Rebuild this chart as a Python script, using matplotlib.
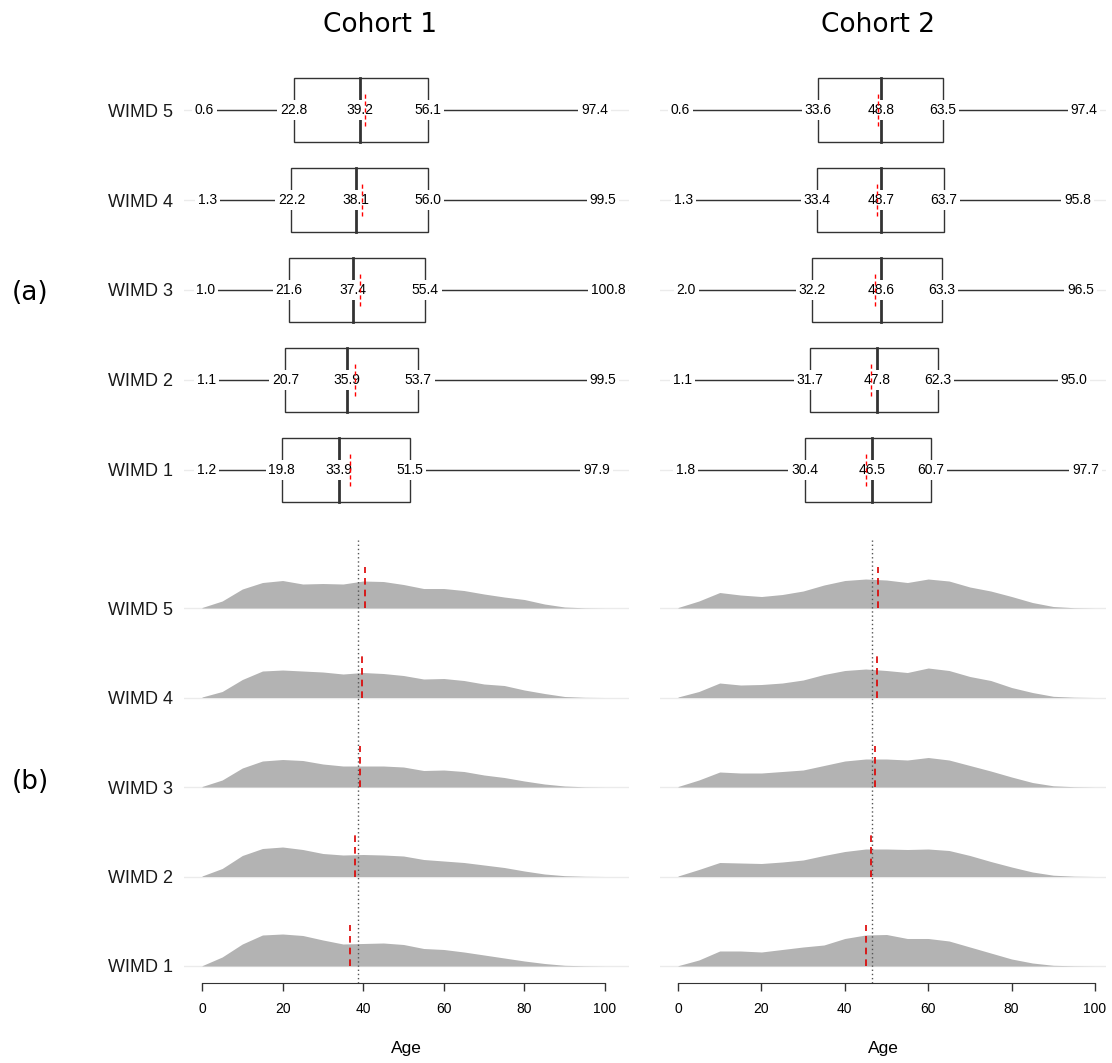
import matplotlib
matplotlib.use("Agg")
import matplotlib.pyplot as plt
from matplotlib.patches import Rectangle
import numpy as np

# groups, bottom row first
groups = ["WIMD 1", "WIMD 2", "WIMD 3", "WIMD 4", "WIMD 5"]
cohorts = ["Cohort 1", "Cohort 2"]

# five-number summaries: min, q1, median, q3, max
c1_stats = [[1.2, 19.8, 33.9, 51.5, 97.9],
            [1.1, 20.7, 35.9, 53.7, 99.5],
            [1.0, 21.6, 37.4, 55.4, 100.8],
            [1.3, 22.2, 38.1, 56.0, 99.5],
            [0.6, 22.8, 39.2, 56.1, 97.4]]
c2_stats = [[1.8, 30.4, 46.5, 60.7, 97.7],
            [1.1, 31.7, 47.8, 62.3, 95.0],
            [2.0, 32.2, 48.6, 63.3, 96.5],
            [1.3, 33.4, 48.7, 63.7, 95.8],
            [0.6, 33.6, 48.8, 63.5, 97.4]]

# group means (red dashed) and overall mean (dotted)
c1_means = [36.8, 38.0, 39.3, 39.8, 40.4]
c2_means = [45.2, 46.4, 47.2, 47.7, 48.0]
overall_means = [38.8, 46.6]

# age density (arbitrary units)
ages = [0, 5, 10, 15, 20, 25, 30, 35, 40, 45, 50, 55, 60, 65, 70, 75, 80, 85, 90, 95, 100]
c1_density = [
  [0.3, 9, 22, 31, 32, 30.5, 26, 22, 22.5, 23, 21.5, 17.5, 16.5, 14, 11, 8, 5, 2.5, 0.7, 0.2, 0],
  [0.5, 8, 21, 28, 29.5, 27, 23, 21.5, 22, 21.5, 20.5, 17, 15.5, 14, 11.5, 9, 5.5, 2.5, 0.8, 0.2, 0],
  [0.5, 7, 19, 26, 27.5, 26.5, 23, 21, 21, 21, 20, 16.5, 17, 15.5, 12, 9.5, 6, 3, 1, 0.2, 0],
  [0.5, 6, 18, 26.5, 27.5, 26.5, 25.5, 23.5, 25, 24, 22, 18.5, 19, 17, 13.5, 12, 7.5, 4, 1, 0.2, 0],
  [0.5, 7, 19, 25.5, 27.5, 24, 24.5, 24, 27, 26.5, 23.5, 19.5, 19.5, 17.5, 14, 11, 8.5, 4, 1, 0.2, 0],
]
c2_density = [
  [0.3, 6, 15, 15, 14, 16.5, 19, 21, 27.5, 31, 31.5, 27.5, 27.5, 25, 19, 13, 7, 3, 0.7, 0.2, 0],
  [0.5, 7, 14, 13.5, 13, 14.5, 16.5, 21, 25, 27.5, 27.5, 27, 27.5, 26, 21, 15, 9.5, 4.5, 1.3, 0.3, 0],
  [0.5, 7, 15, 14, 14, 15.5, 17, 21.5, 26, 28, 28, 27, 29.5, 27, 21.5, 16, 10, 4.5, 1.2, 0.3, 0],
  [0.5, 6, 14.5, 12.5, 13, 14.5, 17.5, 23, 27, 28.5, 27, 25, 29.5, 27, 21, 17, 10, 5, 1.2, 0.3, 0],
  [0.5, 7, 15.5, 13, 11.5, 13.5, 17, 23, 27.5, 29, 28, 25.5, 29, 27, 21, 17, 11.5, 5.5, 1.5, 0.3, 0],
]

line_col = "#333333"
grid_col = "#ebebeb"
num_font = "Liberation Sans"
W, H = 1112, 1063


def draw_boxes(ax, stats, means):
  box_h = 0.355
  for i, s in enumerate(stats):
    y = i + 1
    lo, q1, med, q3, hi = s
    ax.axhline(y, color=grid_col, lw=1, zorder=0)
    ax.plot([lo, q1], [y, y], color=line_col, lw=1, zorder=1)
    ax.plot([q3, hi], [y, y], color=line_col, lw=1, zorder=1)
    ax.add_patch(Rectangle((q1, y - box_h), q3 - q1, 2 * box_h, fc="white",
                           ec=line_col, lw=1, zorder=1))
    ax.plot([med, med], [y - box_h, y + box_h], color=line_col, lw=2, zorder=1)
    for v in s:
      ax.text(v, y, "%.1f" % v, ha="center", va="center", fontsize=10,
              family=num_font, color="black", zorder=2,
              bbox=dict(facecolor="white", edgecolor="none", boxstyle="square,pad=0.2"))
    ax.plot([means[i], means[i]], [y - 0.18, y + 0.18], color="red",
            ls=(0, (3, 2)), lw=1, zorder=4)


def draw_ridges(ax, density, means, overall):
  row_px = 89.5
  for i, d in enumerate(density):
    y = i + 1
    h = np.array(d) / row_px
    ax.axhline(y, color=grid_col, lw=1, zorder=0)
    ax.fill_between(ages, y, y + h, color="#b3b3b3", lw=0, zorder=1)
    ax.plot([means[i], means[i]], [y, y + 0.46], color="#dd0000",
            ls=(0, (4, 3)), lw=1.2, zorder=3)
  ax.axvline(overall, color="#555555", ls=(0, (1, 2)), lw=1, zorder=2)


def main():
  fig = plt.figure(figsize=(W / 100, H / 100), dpi=100)

  # axes placement in pixels: left, width, x-limits
  cols = [(184, 445, (-4.47, 105.96)), (660, 446, (-4.32, 102.64))]
  stats = [c1_stats, c2_stats]
  dens = [c1_density, c2_density]
  means = [c1_means, c2_means]
  title_x = [380, 878]

  for k in range(2):
    left, width, xlim = cols[k]
    ax_top = fig.add_axes([left / W, (H - 520) / H, width / W, 460 / H])
    ax_bot = fig.add_axes([left / W, (H - 983) / H, width / W, 443 / H])

    draw_boxes(ax_top, stats[k], means[k])
    draw_ridges(ax_bot, dens[k], means[k], overall_means[k])

    ax_top.set_xlim(*xlim)
    ax_top.set_ylim(0.444, 5.556)
    ax_bot.set_xlim(*xlim)
    ax_bot.set_ylim(0.81, 5.76)

    for ax in (ax_top, ax_bot):
      for sp in ax.spines.values():
        sp.set_visible(False)
      ax.set_yticks(range(1, 6))
      if k == 0:
        ax.set_yticklabels(groups, fontsize=13, family=num_font, color="#1a1a1a")
      else:
        ax.set_yticklabels([])
      ax.tick_params(axis="y", length=0, pad=8)
    ax_top.set_xticks([])

    ax_bot.spines["bottom"].set_visible(True)
    ax_bot.spines["bottom"].set_bounds(0, 100)
    ax_bot.spines["bottom"].set_color(line_col)
    ax_bot.set_xticks(range(0, 101, 20))
    ax_bot.set_xticklabels([str(v) for v in range(0, 101, 20)], fontsize=10, family=num_font)
    ax_bot.tick_params(axis="x", length=6, width=1, color=line_col, pad=8)
    ax_bot.set_xlabel("Age", fontsize=12.5, family=num_font, labelpad=18)

    fig.text(title_x[k] / W, 1 - 25 / H, cohorts[k], ha="center", va="center",
             fontsize=19, family="DejaVu Sans")

  fig.text(30 / W, 1 - 293 / H, "(a)", ha="center", va="center", fontsize=19, family="DejaVu Sans")
  fig.text(30 / W, 1 - 782 / H, "(b)", ha="center", va="center", fontsize=19, family="DejaVu Sans")

  fig.savefig("out.png", dpi=100)


if __name__ == '__main__':
  main()
